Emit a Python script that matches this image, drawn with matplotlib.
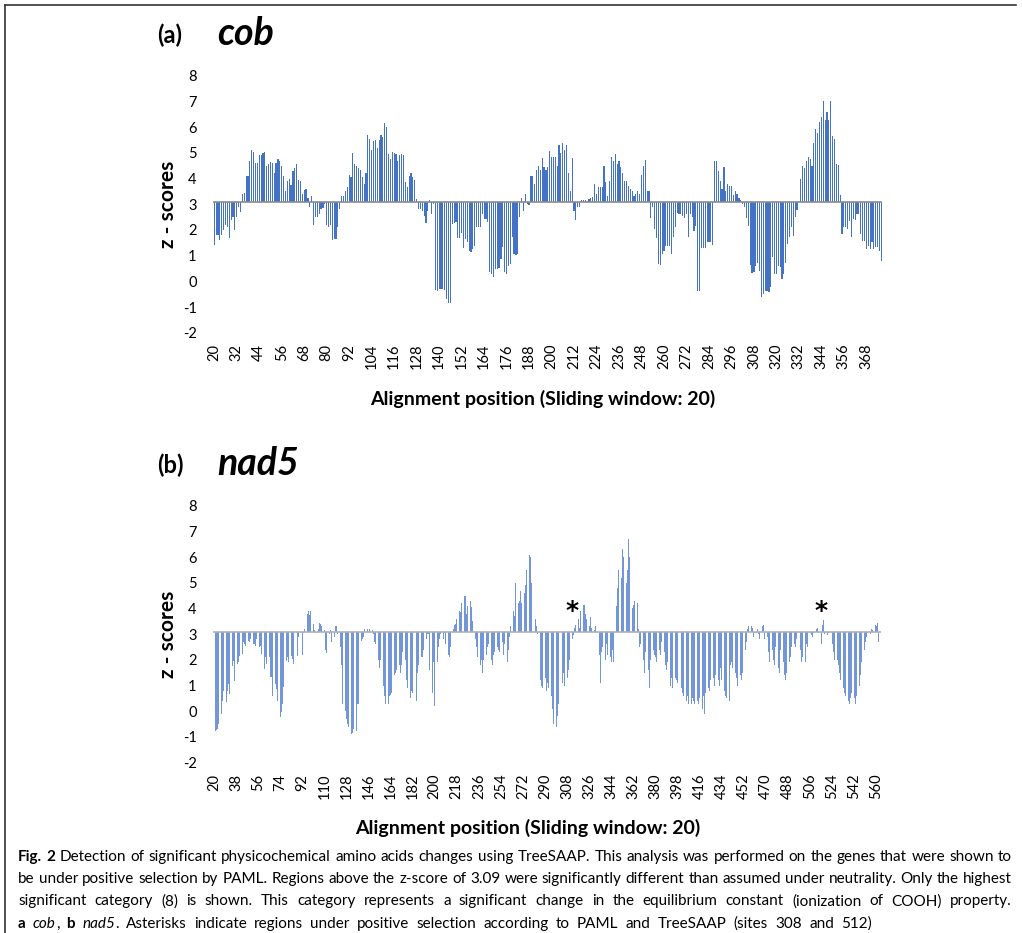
import numpy as np
import matplotlib
matplotlib.use("Agg")
import matplotlib.pyplot as plt

# z-scores, one value per alignment position (start = 20)
cob_z = [
    1.4, 1.8, 1.8, 1.6, 1.8, 2.0, 2.2, 2.1, 1.7, 2.4, 2.5, 2.0, 2.5, 2.9, 2.7,
    3.4, 3.45, 4.1, 4.1, 4.7, 5.1, 5.05, 4.6, 4.6, 4.9, 4.9, 5.0, 5.05, 4.5, 4.55, 4.65, 4.6, 4.2, 4.6, 4.75, 4.7,
    4.5, 4.1, 3.5, 3.9, 4.0, 3.75, 4.3, 4.4, 4.55, 3.95, 3.9, 3.4, 3.55, 3.6, 3.25, 2.9, 3.3,
    2.2, 2.5, 2.5, 2.6, 2.8, 2.85, 3.0, 2.2, 2.1, 2.2, 1.6, 1.65, 1.65, 2.1, 2.8,
    3.3, 3.3, 3.5, 3.65, 4.15, 4.05, 5.0, 4.55, 4.5, 4.4, 4.35, 4.05, 3.8, 4.2, 5.7, 5.55, 5.1, 5.45, 5.5, 5.2,
    5.5, 5.7, 5.6, 6.15, 6.0, 4.95, 4.75, 5.05, 5.0, 4.95, 4.7, 4.9, 4.95, 4.9, 3.85, 3.65, 4.1, 4.2, 4.05, 3.95, 3.2,
    2.8, 2.8, 2.75, 2.55, 2.25, 2.75, 3.15, 2.6, 3.0,
    -0.34, -0.36, -0.3, -0.3, -0.3, -0.32, -0.69, -0.86, -0.86,
    2.23, 2.26, 2.3, 1.69, 1.69, 1.87, 1.3, 1.65, 1.52, 1.19, 1.13, 1.26, 1.39, 2.1, 2.1, 2.1,
    2.62, 2.43, 2.43, 2.3, 0.35, 0.28, 0.15, 0.48, 0.48, 0.5, 0.87, 1.32, 0.35, 0.3, 0.61, 0.67, 1.71, 1.06, 1.03, 1.06,
    2.49, 3.25, 2.75, 3.4, 3.0, 2.95,
    4.1, 4.1, 3.8, 4.35, 4.5, 4.35, 4.8, 4.45, 4.35, 4.45, 5.06, 4.85, 4.83, 4.85, 4.5, 5.3, 5.0, 5.4, 5.1, 5.3, 4.2, 3.5, 4.8,
    2.75, 2.4, 2.9, 2.9,
    3.17, 3.17, 3.17, 3.14, 3.2, 3.25, 3.28, 3.8, 3.4, 3.65, 3.68, 3.68, 4.5, 3.85,
    3.3, 3.92, 4.83, 4.68, 4.96, 4.55, 4.7, 4.45, 4.2, 3.92, 3.9, 3.72, 3.6, 3.5, 3.3, 3.4, 3.52, 3.4, 4.15, 4.47, 4.73, 3.5, 3.5,
    2.47, 2.88, 2.04, 1.69, 0.67, 0.65, 1.06, 1.19, 1.39, 1.39, 1.39, 1.06, 1.74, 2.1, 2.65, 2.62, 2.62, 2.56, 2.47, 2.62,
    1.71, 2.6, 2.52, 1.97, 2.17, -0.36, -0.36, 1.3, 1.3, 1.3, 1.52, 1.52, 1.52, 1.41,
    4.7, 4.7, 4.3,
    3.9, 3.6, 4.44, 3.5, 3.8, 3.7, 3.7, 3.35, 3.5, 3.4, 3.25, 3.15,
    3.01, 2.88, 2.47, 2.17, 0.65, 0.31, 0.35, 0.61, 0.7, 0.42, -0.6, -0.49, -0.36, -0.39, -0.43, -0.23, 0.93, 0.28, 0.28, 0.61,
    0.57, 0.09, 0.28, 0.7, 1.45, 1.71, 2.13, 1.78, 2.49, 2.78,
    3.14, 3.99, 4.5, 4.42, 4.7, 4.83, 4.77, 4.47, 5.4, 5.93, 5.76, 6.19, 6.4, 7.0, 6.28, 6.6, 6.28, 7.0, 5.67, 5.55, 4.55, 4.51, 3.34,
    1.84, 2.1, 2.1, 2.04, 2.36, 1.71, 2.43, 2.39, 2.62, 2.62, 1.84, 1.58, 1.58, 1.26, 1.39, 1.26, 1.52, 1.26, 1.32, 1.32, 1.19, 0.8,
]

nad5_z = [
    -1.0, -0.75, -0.72, -0.7, -0.5, -0.65, -0.1, 0.42, 0.8, 0.3, 0.35, 0.8,
    1.06, 0.67, 1.71, 1.78, 1.97, 1.19, 2.1, 1.84, 1.91, 2.17, 2.04, 2.23, 2.69, 2.62, 2.56, 2.75, 2.75, 2.69, 2.82, 2.56,
    2.62, 2.62, 2.56, 2.82, 2.56, 2.5, 2.56, 2.23, 1.65, 1.65, 2.1, 1.84, 1.71, 2.1, 1.32, 1.32, 0.61, 0.8, 1.06, 0.87,
    0.42, 0.3, -0.23, -0.04, 0.3, 0.93, 1.38, 1.97, 2.1, 1.91, 2.3, 2.17, 2.04, 1.84, 1.84, 2.1, 2.17, 2.88,
    3.1, 3.15, 2.2, 3.05, 3.2, 3.15, 3.8, 3.9, 3.75, 3.9, 3.6, 3.4, 3.15, 3.05, 3.1, 3.2, 3.45, 3.4, 3.3, 3.4,
    3.15, 2.4, 2.25, 2.9, 3.0, 3.15, 2.7, 3.1, 2.9, 3.3, 3.3, 3.0, 2.7,
    2.5, 1.8, 0.3, 0.25, 0.0, -0.3, -0.5, -0.6, -0.4, -0.9, -0.85, -0.7, -0.9, -0.75, 0.3, 0.3, 1.4,
    2.75, 2.8, 2.9, 3.2, 3.25, 3.2, 3.1, 3.2, 2.95, 3.15, 3.0, 2.7, 2.6, 2.3, 2.0, 1.7,
    2.0, 1.5, 1.0, 0.6, 0.3, 0.4, 0.3, 0.6, 0.65, 0.7, 1.0, 1.4, 1.5, 1.6,
    2.0, 1.8, 1.5, 1.8, 2.3, 2.6, 2.0, 1.2,
    0.9, 0.6, 0.5, 0.8, 0.7, 0.9, 1.1, 0.4,
    1.5, 1.8, 2.0, 2.1, 2.1, 2.4, 2.6, 2.8, 3.0,
    3.0, 1.6, 1.2, 0.7, 1.9, 0.2, 1.8, 1.9, 2.5, 2.8,
    3.0, 2.9, 2.8, 3.05, 2.6, 2.4, 2.2, 2.1, 2.5,
    3.35, 3.2, 3.35, 3.4, 3.6, 3.6, 3.9, 3.85, 4.2, 5.5, 4.5, 4.5, 3.8, 4.1, 4.35, 4.3, 4.05, 3.5, 3.2,
    2.8, 2.5, 2.1, 2.4, 1.8, 2.0, 1.5, 2.0, 1.6, 2.2, 2.5, 2.6, 2.1, 2.0, 1.8, 2.2, 2.3, 2.0, 2.5, 2.4,
    2.3, 2.0, 2.7, 2.2, 2.6, 2.5, 1.9, 2.4, 2.9,
    3.3, 3.5, 3.9, 3.7, 5.0, 3.9, 4.2, 4.3, 4.7, 4.2, 4.4, 4.6, 4.9, 5.5, 5.3, 6.1, 6.0, 5.0, 4.9, 4.5, 3.6, 3.3,
    3.0, 2.2, 1.2, 1.0, 0.9, 1.0, 1.3, 0.8, 1.1, 0.9, 1.2, 0.6, 0.1, -0.5, -0.7, -0.6, -0.2, 0.3, 0.8, 1.6,
    1.1, 1.5, 1.0, 1.2, 1.3, 1.6, 2.0, 2.4, 2.8, 2.95,
    3.25, 3.35, 3.6, 3.6, 3.25, 3.9, 3.85, 4.15, 4.15, 3.8, 3.6, 3.45, 3.3, 3.65, 3.25, 3.2, 3.15, 3.3, 3.1,
    2.7, 2.2, 1.1, 2.3, 2.5, 1.8, 2.0, 2.6, 2.2, 1.5, 2.1, 1.9, 2.4, 1.9, 3.0,
    4.1, 4.8, 5.5, 5.9, 5.2, 6.3, 6.0, 5.3, 5.0, 5.5, 6.7, 6.0, 3.9, 4.0, 4.15, 4.3, 4.3, 4.2, 3.2,
    2.5, 2.6, 2.2, 2.0, 1.5, 2.3, 1.4, 1.6, 0.9, 2.0, 1.6, 2.4, 2.2, 2.1, 1.9, 2.0, 2.4, 2.2, 2.7, 2.5,
    2.3, 1.8, 1.6, 1.9, 1.2, 1.0, 1.3, 0.9, 1.4, 1.3, 1.2, 1.1, 0.8, 1.0, 0.9, 0.7, 0.6, 0.5, 0.4, 0.6,
    0.3, 0.2, 0.3, 0.5, 0.4, 0.3, 0.6,
    0.4, 0.3, 0.5, 0.4, 0.1, 0.6, -0.1, 0.7, 0.6, 0.9, 0.8, 1.2, 1.5, 1.3, 1.0, 1.4, 1.6, 1.2, 1.0,
    1.7, 1.2, 1.0, 0.8, 0.6, 0.5, 0.6, 0.4, 1.8, 1.9, 1.7, 1.9, 1.5, 1.3, 1.0, 1.6, 1.4, 1.2, 1.5, 2.6, 2.4, 2.7,
    3.2, 3.3, 3.05, 3.3, 3.25, 2.9, 2.8, 3.05, 3.2, 3.0, 2.8, 2.7, 3.3, 3.35, 2.8, 3.0,
    2.9, 2.3, 1.9, 2.1, 2.4, 2.0, 1.8, 2.5, 2.2, 1.7, 1.5, 2.4, 2.6, 1.9, 1.4, 1.2, 1.5, 2.0, 1.9, 2.1,
    2.5, 2.3, 2.6, 2.5, 2.8, 2.2, 2.0, 2.4, 1.9, 2.1, 1.7, 1.9, 2.6, 2.5,
    3.15, 3.05, 2.95, 2.9, 3.05, 3.1, 3.2, 3.25, 3.1, 2.8, 2.6, 3.35, 3.55, 3.0, 2.9, 2.95, 3.05, 3.1,
    2.9, 2.6, 2.3, 2.0, 1.9, 2.0, 1.8, 1.5,
    1.2, 1.0, 0.9, 0.7, 0.6, 0.5, 0.4, 0.3, 0.5, 0.7, 0.4, 0.5, 0.3, 0.6,
    0.8, 1.0, 1.4, 1.9, 2.2, 2.4, 2.7, 2.9,
    3.05, 3.1, 3.0, 3.2, 3.15, 3.45, 3.35, 3.3, 3.45, 2.7, 2.4,
]

start_pos = 20
threshold = 3.09
cob_tick_step = 12
nad5_tick_step = 18
asterisk_x = [312, 515]   # where the stars sit over the nad5 bars
asterisk_y = 3.9

W, H = 1022, 933
fig = plt.figure(figsize=(W / 100, H / 100), dpi=100)
font = "Lato"


def px_axes(x0, y0, x1, y1):
    return fig.add_axes([x0 / W, 1 - y1 / H, (x1 - x0) / W, (y1 - y0) / H])


def draw_panel(ax, z, step, color, base_color):
    z = np.asarray(z)
    pos = np.arange(start_pos, start_pos + len(z))
    ax.bar(pos, z - threshold, bottom=threshold, width=0.62, color=color, linewidth=0)
    ax.axhline(threshold, color=base_color, lw=1.2, zorder=3)
    ax.set_xlim(pos[0] - 0.5, pos[-1] + 0.5)
    ax.set_ylim(-2, 8)
    ax.set_yticks(range(-2, 9))
    ax.set_yticklabels([str(v) for v in range(-2, 9)], fontfamily=font, fontsize=10.5)
    ticks = list(range(start_pos, pos[-1] + 1, step))
    ax.set_xticks(ticks)
    ax.set_xticklabels([str(t) for t in ticks], rotation=90, fontfamily=font, fontsize=10.5)
    ax.tick_params(axis="y", length=0, pad=12)
    ax.tick_params(axis="x", length=0, pad=8)
    for s in ax.spines.values():
        s.set_visible(False)
    ax.patch.set_alpha(0)


ax1 = px_axes(213.3, 75.7, 882.3, 332.7)
draw_panel(ax1, cob_z, cob_tick_step, "#4472C4", "#8C8C8C")
ax2 = px_axes(213.3, 505.7, 880.7, 762.7)
draw_panel(ax2, nad5_z, nad5_tick_step, "#7396D8", "#B0B0B0")
for x in asterisk_x:
    ax2.text(x, asterisk_y, "*", ha="center", va="center", fontsize=18,
             fontweight="bold", fontfamily="DejaVu Sans")


def ftext(x, y, s, **kw):
    return fig.text(x / W, 1 - y / H, s, **kw)


# frame of the published figure (top and left edges)
fig.add_artist(plt.Line2D([5 / W, 1016 / W], [1 - 5 / H, 1 - 5 / H], color="#333333", lw=1.2))
fig.add_artist(plt.Line2D([5 / W, 5 / W], [0, 1 - 5 / H], color="#333333", lw=1.2))

# panel headings and axis titles
ftext(157, 43, "(a)", fontsize=17, fontweight="bold", fontfamily=font, va="baseline")
ftext(217, 45, "cob", fontsize=27, fontweight="bold", fontstyle="italic", fontfamily=font, va="baseline")
ftext(157, 473, "(b)", fontsize=17, fontweight="bold", fontfamily=font, va="baseline")
ftext(217, 475, "nad5", fontsize=27, fontweight="bold", fontstyle="italic", fontfamily=font, va="baseline")

for yc in (204, 634):
    ftext(168, yc, "z - scores", rotation=90, fontsize=15, fontweight="bold",
          fontfamily=font, ha="center", va="center")
ftext(543, 399, "Alignment position (Sliding window: 20)", fontsize=14,
      fontweight="bold", fontfamily=font, ha="center", va="center")
ftext(528, 828, "Alignment position (Sliding window: 20)", fontsize=14,
      fontweight="bold", fontfamily=font, ha="center", va="center")

# caption, laid out word by word so the lines are justified
cap_font = "Lato"
caption = [
    ([("Fig. 2", "bold", "normal"), (" Detection of significant physicochemical amino acids changes using TreeSAAP. "
      "This analysis was performed on the genes that were shown to", "normal", "normal")], 1012),
    ([("be under positive selection by PAML. Regions above the z-score of 3.09 were significantly different than "
       "assumed under neutrality. Only the highest", "normal", "normal")], 1012),
    ([("significant category (8) is shown. This category represents a significant change in the equilibrium "
       "constant (ionization of COOH) property.", "normal", "normal")], 1012),
    ([("a", "bold", "normal"), (" ", "normal", "normal"), ("cob", "normal", "italic"), (", ", "normal", "normal"),
      ("b", "bold", "normal"), (" ", "normal", "normal"), ("nad5", "normal", "italic"),
      (". Asterisks indicate regions under positive selection according to PAML and TreeSAAP (sites 308 and 512)",
       "normal", "normal")], 872),
]

renderer = fig.canvas.get_renderer()


def width_of(s, weight, style, size):
    t = fig.text(0, 0, s, fontsize=size, fontweight=weight, fontstyle=style, fontfamily=cap_font)
    w = t.get_window_extent(renderer).width
    t.remove()
    return w


def split_words(runs):
    words = [[]]
    for s, weight, style in runs:
        parts = s.split(" ")
        for j, p in enumerate(parts):
            if j > 0:
                words.append([])
            if p:
                words[-1].append((p, weight, style))
    return [w for w in words if w]


x_left = 18
cap_size = 11
while cap_size > 7:
    ok = True
    for runs, x_right in caption:
        words = split_words(runs)
        total = sum(width_of(p, wt, st, cap_size) for w in words for p, wt, st in w)
        if (x_right - x_left - total) / (len(words) - 1) < 0.2 * cap_size * 100 / 72:
            ok = False
    if ok:
        break
    cap_size -= 0.25

for i, (runs, x_right) in enumerate(caption):
    y = 861 + i * 22.2
    words = split_words(runs)
    widths = [[width_of(p, wt, st, cap_size) for p, wt, st in w] for w in words]
    total = sum(sum(w) for w in widths)
    gap = (x_right - x_left - total) / (len(words) - 1)
    x = x_left
    for w, ws in zip(words, widths):
        for (p, wt, st), pw in zip(w, ws):
            ftext(x, y, p, fontsize=cap_size, fontweight=wt, fontstyle=st, fontfamily=cap_font, va="baseline")
            x += pw
        x += gap

plt.savefig("out.png", dpi=100)
